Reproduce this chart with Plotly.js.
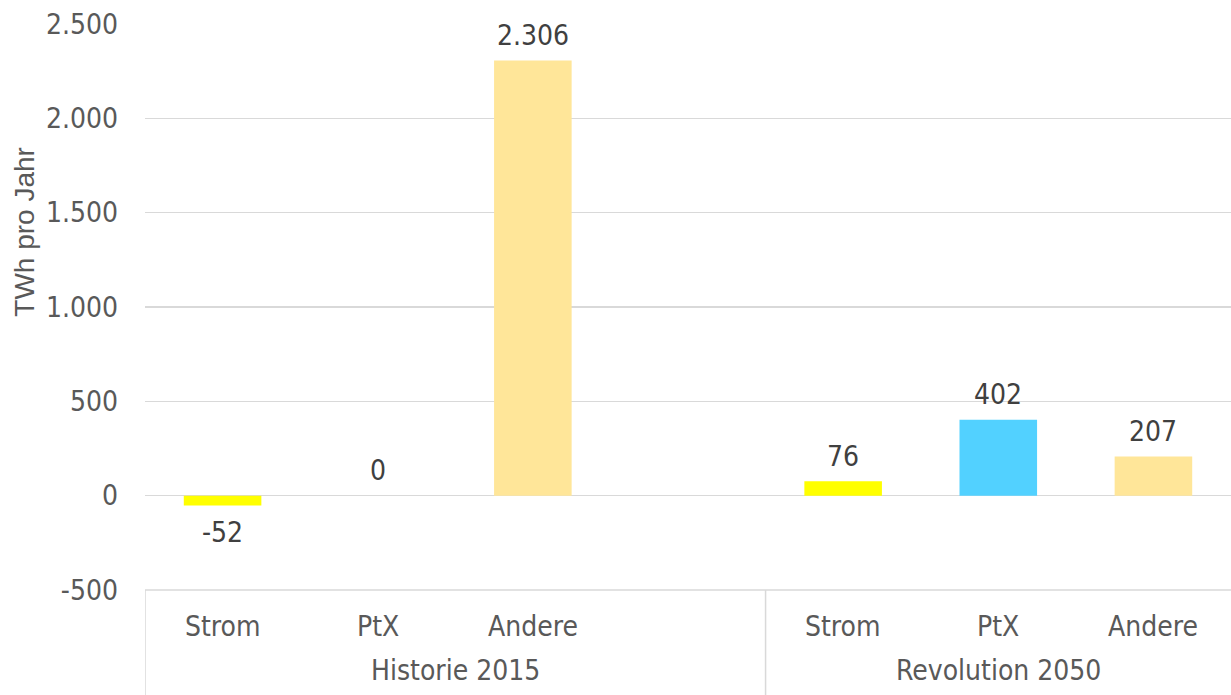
<!DOCTYPE html>
<html>
<head>
<meta charset="utf-8">
<script src="https://cdn.plot.ly/plotly-3.0.1.min.js"></script>
<style>
  html, body { margin: 0; padding: 0; background: #fff; }
  #chart { width: 1231px; height: 695px; }
</style>
</head>
<body>
<div id="chart"></div>
<script>
// ---- data ----
const groups = ["Historie 2015", "Historie 2015", "Historie 2015", "Historie 2015",
                "Revolution 2050", "Revolution 2050", "Revolution 2050"];
const categories = ["Strom", "PtX", "Andere", "", "Strom", "PtX", "Andere"];
const values = [-52, 0, 2306, null, 76, 402, 207];
const yTickValues = [-500, 0, 500, 1000, 1500, 2000, 2500];
const groupNames = ["Historie 2015", "Revolution 2050"];
const yTitle = "TWh pro Jahr";

// ---- styles ----
const colorByCategory = { "Strom": "#FFFF00", "PtX": "#52D1FF", "Andere": "#FFE699" };
const FONT = '"DejaVu Sans Condensed", "DejaVu Sans", sans-serif';
const GRID = "#D9D9D9";

function fmt(v) {
  const s = String(Math.abs(v)).replace(/\B(?=(\d{3})+(?!\d))/g, ".");
  return (v < 0 ? "-" : "") + s;
}

const idx = categories.map((c, i) => i);

const trace = {
  type: "bar",
  x: idx,
  y: values,
  width: 0.5,
  marker: { color: categories.map(c => colorByCategory[c] || "rgba(0,0,0,0)") },
  hoverinfo: "skip",
  showlegend: false
};

const annotations = [];
// data labels
values.forEach((v, i) => {
  if (v === null) return;
  annotations.push({
    x: i, y: v, xref: "x", yref: "y",
    text: fmt(v), showarrow: false,
    xanchor: "center", yanchor: "middle",
    yshift: v < 0 ? -27 : 25,
    font: { family: FONT, size: 28, color: "#404040" }
  });
});
// category labels
categories.forEach((c, i) => {
  if (!c) return;
  annotations.push({
    x: i, y: 0, xref: "x", yref: "paper",
    text: c, showarrow: false,
    xanchor: "center", yanchor: "middle",
    yshift: -36,
    font: { family: FONT, size: 28, color: "#595959" }
  });
});
// group labels and divider lines
const shapes = [{
  type: "line", xref: "paper", yref: "paper",
  x0: 0, x1: 1, y0: 0, y1: 0,
  line: { color: GRID, width: 1.5 }
}];
groupNames.forEach(g => {
  const members = idx.filter(i => groups[i] === g);
  const lo = Math.min(...members) - 0.5, hi = Math.max(...members) + 0.5;
  annotations.push({
    x: (lo + hi) / 2, y: 0, xref: "x", yref: "paper",
    text: g, showarrow: false,
    xanchor: "center", yanchor: "middle",
    yshift: -80,
    font: { family: FONT, size: 28, color: "#595959" }
  });
  shapes.push({
    type: "line", xref: "x", yref: "paper",
    x0: lo, x1: lo, y0: 0, y1: -0.3,
    line: { color: GRID, width: 1.5 }
  });
});
// y-axis title
annotations.push({
  x: 0, y: 0.633, xref: "paper", yref: "paper",
  text: yTitle, showarrow: false, textangle: -90,
  xanchor: "center", yanchor: "middle", xshift: -120,
  font: { family: '"Liberation Sans", Arial, sans-serif', size: 28, color: "#595959" }
});

const layout = {
  width: 1231, height: 695,
  margin: { l: 145, r: 0, t: 24, b: 105 },
  paper_bgcolor: "#fff", plot_bgcolor: "#fff",
  separators: ",.",
  xaxis: {
    type: "linear",
    range: [-0.5, categories.length - 0.5],
    showticklabels: false, showgrid: false, zeroline: false,
    ticks: "", fixedrange: true
  },
  yaxis: {
    range: [-500, 2500],
    tickvals: yTickValues,
    ticktext: yTickValues.map(fmt),
    showgrid: true, gridcolor: GRID, gridwidth: 1.5,
    zeroline: false, showline: false, ticks: "",
    ticklabelstandoff: 26,
    tickfont: { family: FONT, size: 28, color: "#595959" },
    automargin: false
  },
  annotations: annotations,
  shapes: shapes,
  bargap: 0.5
};

Plotly.newPlot("chart", [trace], layout, { displayModeBar: false, staticPlot: true });
</script>
</body>
</html>
